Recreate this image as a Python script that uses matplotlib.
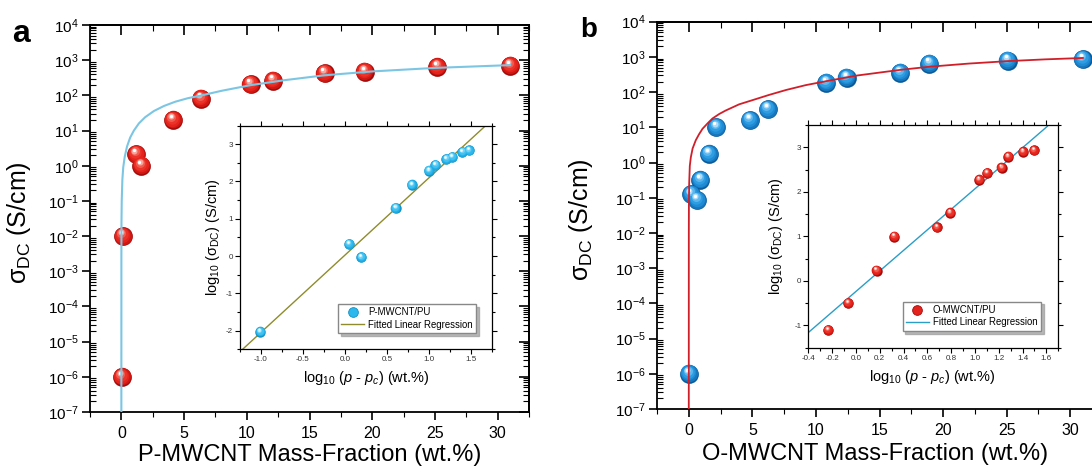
import numpy as np
import matplotlib
matplotlib.use("Agg")
import matplotlib.pyplot as plt
from matplotlib.ticker import LogLocator, MultipleLocator, FormatStrFormatter, NullFormatter
from matplotlib.transforms import offset_copy
from matplotlib.lines import Line2D

plt.rcParams['font.family'] = ['Liberation Sans', 'DejaVu Sans']
plt.rcParams['mathtext.fontset'] = 'custom'
plt.rcParams['mathtext.rm'] = 'Liberation Sans'
plt.rcParams['mathtext.it'] = 'Liberation Sans:italic'
plt.rcParams['mathtext.bf'] = 'Liberation Sans:bold'
plt.rcParams['mathtext.sf'] = 'Liberation Sans'
plt.rcParams['axes.unicode_minus'] = False

# ---------------- data ----------------
# panel a: P-MWCNT/PU
a_x = [0.05, 0.12, 1.18, 1.6, 4.1, 6.36, 10.3, 12.1, 16.2, 19.4, 25.2, 31.0]
a_y = [1e-6, 1e-2, 2.1, 1.0, 20, 81, 205, 263, 425, 470, 645, 700]
# fitted curve of panel a
fa_x = [0.0, 0.003, 0.01, 0.03, 0.08, 0.15, 0.27, 0.45, 0.7, 1.0, 1.4, 1.9, 2.6,
        3.4, 4.3, 5.3, 6.4, 8.0, 10.3, 13.0, 16.2, 20.0, 25.0, 31.0]
fa_y = [3e-8, 3e-3, 2.5e-2, 0.1, 0.4, 0.9, 1.8, 3.5, 6.3, 10, 16, 24, 36,
        50, 66, 83, 100, 135, 195, 270, 372, 479, 603, 724]
# inset a
ia_x = [-1.01, 0.05, 0.196, 0.605, 0.796, 1.0, 1.08, 1.21, 1.28, 1.40, 1.48]
ia_y = [-2.03, 0.32, -0.03, 1.285, 1.91, 2.29, 2.44, 2.60, 2.66, 2.79, 2.83]
ila_x = [-1.219, 1.67]
ila_y = [-2.50, 3.48]

# panel b: O-MWCNT/PU
b_x = [0.02, 0.2, 0.66, 0.92, 1.58, 2.17, 4.81, 6.23, 10.83, 12.41, 16.64, 18.93, 25.08, 30.98]
b_y = [1e-6, 0.125, 0.085, 0.32, 1.75, 9.9, 16, 33, 185, 257, 355, 645, 790, 855]
fb_x = [0.0, 0.003, 0.01, 0.03, 0.08, 0.16, 0.3, 0.55, 0.8, 1.08, 1.5, 1.86, 2.4,
        2.9, 3.96, 5.0, 6.3, 7.65, 9.2, 10.8, 13.2, 16.6, 18.9, 22.0, 25.1, 28.0, 31.0]
fb_y = [3e-8, 1e-2, 6.3e-2, 0.25, 0.8, 1.4, 2.5, 4.3, 6.3, 9.1, 13.2, 17.8, 24,
        30, 45, 59, 83, 115, 158, 204, 295, 427, 525, 646, 759, 851, 933]
# inset b
ib_x = [-0.234, -0.066, 0.173, 0.322, 0.679, 0.791, 1.035, 1.10, 1.224, 1.28, 1.403, 1.496]
ib_y = [-1.10, -0.50, 0.232, 0.996, 1.20, 1.53, 2.27, 2.42, 2.54, 2.79, 2.90, 2.93]
ilb_x = [-0.4, 1.608]
ilb_y = [-1.16, 3.47]

RED = ['#a00c0c', '#cf1712', '#e4231c', '#ec3329', '#f25c50', '#f9a59c', '#ffffff']
BLUE = ['#0b5a98', '#1677bd', '#208bd5', '#2f9de2', '#5db7ee', '#abdcf8', '#ffffff']
CYAN = ['#1390c4', '#1fa8e0', '#2cb7ed', '#42c3f2', '#74d4f6', '#c0ecfc', '#ffffff']
FRAC = [(1.0, 0.0), (0.93, 0.03), (0.82, 0.07), (0.66, 0.11), (0.48, 0.16), (0.32, 0.2), (0.18, 0.22)]

fig = plt.figure(figsize=(10.92, 4.71), dpi=100)


def balls(ax, x, y, ms, colors, zorder=3):
    for i, (c, (sf, of)) in enumerate(zip(colors, FRAC)):
        tr = offset_copy(ax.transData, fig=fig, x=-ms * of * 0.5, y=ms * of, units='points')
        ax.plot(x, y, ls='none', marker='o', ms=ms * sf, mfc=c, mec='none',
                transform=tr, zorder=zorder + i * 0.01)


def style_main(ax):
    ax.set_yscale('log')
    ax.set_xlim(-2.5, 32.5)
    ax.set_ylim(1e-7, 1e4)
    ax.xaxis.set_major_locator(MultipleLocator(5))
    ax.xaxis.set_minor_locator(MultipleLocator(2.5))
    ax.yaxis.set_major_locator(LogLocator(base=10, numticks=30))
    ax.yaxis.set_minor_locator(LogLocator(base=10, subs=np.arange(2, 10), numticks=300))
    ax.yaxis.set_minor_formatter(NullFormatter())
    ax.tick_params(which='major', direction='out', length=6, width=1.2, pad=2)
    ax.tick_params(which='minor', direction='out', length=3.5, width=0.8)
    ax.tick_params(axis='y', which='minor', direction='in', length=4)
    ax.tick_params(axis='y', labelsize=11)
    ax.tick_params(axis='x', labelsize=11.5, pad=4)
    for s in ax.spines.values():
        s.set_linewidth(1.3)
    sx = ax.secondary_xaxis('top')
    sx.xaxis.set_major_locator(MultipleLocator(5))
    sx.xaxis.set_minor_locator(MultipleLocator(2.5))
    sx.xaxis.set_major_formatter(NullFormatter())
    sx.tick_params(which='major', direction='in', length=7, width=1.2)
    sx.tick_params(which='minor', direction='in', length=4.5, width=0.8)
    sx.spines['top'].set_linewidth(1.3)
    sy = ax.secondary_yaxis('right')
    sy.yaxis.set_major_locator(LogLocator(base=10, numticks=30))
    sy.yaxis.set_minor_locator(LogLocator(base=10, subs=np.arange(2, 10), numticks=300))
    sy.yaxis.set_major_formatter(NullFormatter())
    sy.yaxis.set_minor_formatter(NullFormatter())
    sy.tick_params(which='major', direction='in', length=7, width=1.2)
    sy.tick_params(which='minor', direction='in', length=4, width=0.8)
    sy.spines['right'].set_linewidth(1.3)


def style_inset(ax, xlim, ylim, xmaj, xmin, xfmt):
    ax.set_xlim(*xlim)
    ax.set_ylim(*ylim)
    ax.xaxis.set_major_locator(MultipleLocator(xmaj))
    ax.xaxis.set_minor_locator(MultipleLocator(xmin))
    ax.xaxis.set_major_formatter(FormatStrFormatter(xfmt))
    ax.yaxis.set_major_locator(MultipleLocator(1))
    ax.yaxis.set_minor_locator(MultipleLocator(0.5))
    ax.yaxis.set_major_formatter(FormatStrFormatter('%d'))
    ax.tick_params(which='both', top=True, right=True, width=0.8, labelsize=5.8,
                   labelcolor='#333333', pad=1.5)
    ax.tick_params(which='major', length=3.5)
    ax.tick_params(which='minor', length=2)
    for s in ax.spines.values():
        s.set_linewidth(0.9)


SHADOW = {'color': '#9a9a9a', 'alpha': 0.7}

# ---------------- panel a ----------------
ax_a = fig.add_axes([90 / 1092, 59 / 471, 439 / 1092, 387 / 471])
style_main(ax_a)
balls(ax_a, a_x, a_y, 13.5, RED, zorder=3)
ax_a.plot(fa_x, fa_y, color='#7cc6e4', lw=1.5, zorder=5)
ax_a.set_xlabel('P-MWCNT Mass-Fraction (wt.%)', fontsize=17)
ax_a.xaxis.set_label_coords(0.5, -0.082)
ax_a.set_ylabel('σ$_{\\mathrm{DC}}$ (S/cm)', fontsize=18)
ax_a.yaxis.set_label_coords(-0.13, 0.49)
fig.text(12 / 1092, 1 - 42 / 471, 'a', fontsize=23, fontweight='bold')

ins_a = fig.add_axes([240 / 1092, (471 - 349.3) / 471, 251.7 / 1092, 223.8 / 471])
style_inset(ins_a, (-1.25, 1.75), (-2.5, 3.5), 0.5, 0.25, '%.1f')
ins_a.plot(ila_x, ila_y, color='#8e8c2c', lw=1.0, zorder=2)
balls(ins_a, ia_x, ia_y, 7.5, CYAN, zorder=3)
ins_a.set_xlabel('log$_{10}$ ($p$ - $p_c$) (wt.%)', fontsize=10.5)
ins_a.xaxis.set_label_coords(0.5, -0.088)
ins_a.set_ylabel('log$_{10}$ (σ$_{\\mathrm{DC}}$) (S/cm)', fontsize=10.5)
ins_a.yaxis.set_label_coords(-0.07, 0.5)
ha = [Line2D([], [], ls='none', marker='o', ms=7, mfc=CYAN[2], mec=CYAN[0], mew=0.6),
      Line2D([], [], color='#8e8c2c', lw=1.0)]
ins_a.legend(ha, ['P-MWCNT/PU', 'Fitted Linear Regression'], loc='lower right',
             bbox_to_anchor=(0.938, 0.073), borderaxespad=0, fontsize=6.9,
             fancybox=False, shadow=SHADOW, edgecolor='#888888', framealpha=1,
             handlelength=2.4, handletextpad=0.4, labelspacing=0.25, borderpad=0.35)

# ---------------- panel b ----------------
ax_b = fig.add_axes([657 / 1092, 62 / 471, 445 / 1092, 387.3 / 471])
style_main(ax_b)
balls(ax_b, b_x, b_y, 13.5, BLUE, zorder=3)
ax_b.plot(fb_x, fb_y, color='#d11f2a', lw=1.3, zorder=5)
ax_b.set_xlabel('O-MWCNT Mass-Fraction (wt.%)', fontsize=17)
ax_b.xaxis.set_label_coords(0.49, -0.089)
ax_b.set_ylabel('σ$_{\\mathrm{DC}}$ (S/cm)', fontsize=18)
ax_b.yaxis.set_label_coords(-0.139, 0.49)
fig.text(580 / 1092, 1 - 37 / 471, 'b', fontsize=20, fontweight='bold')

ins_b = fig.add_axes([808.3 / 1092, (471 - 347.7) / 471, 250 / 1092, 222.7 / 471])
style_inset(ins_b, (-0.4, 1.7), (-1.5, 3.5), 0.2, 0.1, '%.1f')
ins_b.plot(ilb_x, ilb_y, color='#2a9ec6', lw=1.0, zorder=2)
balls(ins_b, ib_x, ib_y, 7.5, RED, zorder=3)
ins_b.set_xlabel('log$_{10}$ ($p$ - $p_c$) (wt.%)', fontsize=10.5)
ins_b.xaxis.set_label_coords(0.495, -0.09)
ins_b.set_ylabel('log$_{10}$ (σ$_{\\mathrm{DC}}$) (S/cm)', fontsize=10.5)
ins_b.yaxis.set_label_coords(-0.093, 0.5)
hb = [Line2D([], [], ls='none', marker='o', ms=7, mfc=RED[2], mec=RED[0], mew=0.6),
      Line2D([], [], color='#2a9ec6', lw=1.0)]
ins_b.legend(hb, ['O-MWCNT/PU', 'Fitted Linear Regression'], loc='lower right',
             bbox_to_anchor=(0.93, 0.076), borderaxespad=0, fontsize=6.9,
             fancybox=False, shadow=SHADOW, edgecolor='#888888', framealpha=1,
             handlelength=2.4, handletextpad=0.4, labelspacing=0.25, borderpad=0.35)

fig.savefig('out.png', dpi=100)
